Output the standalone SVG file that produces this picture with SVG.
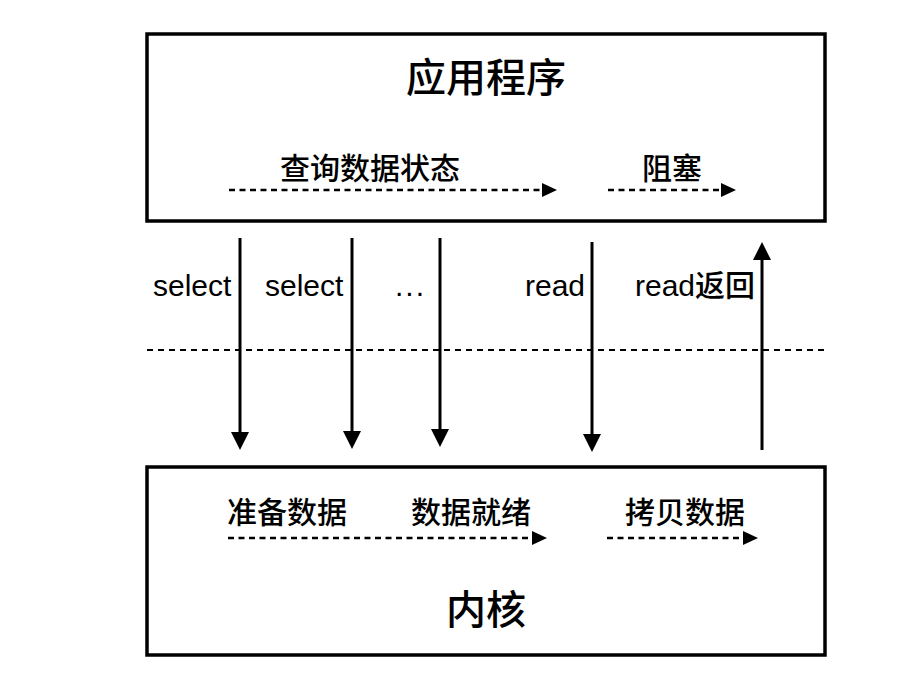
<svg xmlns="http://www.w3.org/2000/svg" width="922" height="700" viewBox="0 0 922 700">
<style>
.box{fill:#fff;stroke:#000;stroke-width:3.5}
.title{font-family:"Liberation Sans","Noto Sans CJK SC",sans-serif;font-size:40px;font-weight:500;fill:#000;text-anchor:middle}
.lbl{font-family:"Liberation Sans","Noto Sans CJK SC",sans-serif;font-size:30px;font-weight:500;fill:#000}
.solid{stroke:#000;stroke-width:3;fill:none;marker-end:url(#ah)}
.dash{stroke:#000;stroke-width:2.5;fill:none;stroke-dasharray:6 4.5;marker-end:url(#dh)}
.sep{stroke:#000;stroke-width:2;fill:none;stroke-dasharray:6 5}
</style>
<defs>
<marker id="ah" markerUnits="userSpaceOnUse" markerWidth="18" markerHeight="18" refX="8" refY="9" orient="auto">
<path d="M0,0 L18,9 L0,18 z" fill="#000"/>
</marker>
<marker id="dh" markerUnits="userSpaceOnUse" markerWidth="15" markerHeight="14" refX="5" refY="7" orient="auto">
<path d="M0,0 L15,7 L0,14 z" fill="#000"/>
</marker>
</defs>
<rect width="922" height="700" fill="#fff"/>
<g id="app">
<rect class="box" x="147" y="34" width="678" height="187"/>
<text class="title" x="486" y="92">应用程序</text>
<text class="lbl" x="280" y="179">查询数据状态</text>
<text class="lbl" x="642" y="179">阻塞</text>
</g>
<g id="kernel">
<rect class="box" x="147" y="467" width="678" height="188"/>
<text class="lbl" x="227" y="523">准备数据</text>
<text class="lbl" x="411" y="523">数据就绪</text>
<text class="lbl" x="625" y="523">拷贝数据</text>
<text class="title" x="486" y="624">内核</text>
</g>
<g id="labels">
<text class="lbl" x="153" y="296">select</text>
<text class="lbl" x="265" y="296">select</text>
<text class="lbl" x="395" y="296" style="letter-spacing:2px">...</text>
<text class="lbl" x="525" y="296">read</text>
<text class="lbl" x="635" y="296">read返回</text>
</g>
<g id="connectors">
<line class="sep" x1="147" y1="350" x2="826" y2="350"/>
<line class="dash" x1="229" y1="190" x2="547" y2="190"/>
<line class="dash" x1="608" y1="190" x2="726" y2="190"/>
<line class="dash" x1="228" y1="538" x2="537" y2="538"/>
<line class="dash" x1="607" y1="538" x2="748" y2="538"/>
<line class="solid" x1="240" y1="238" x2="240" y2="440"/>
<line class="solid" x1="352" y1="238" x2="352" y2="439"/>
<line class="solid" x1="440" y1="238" x2="440" y2="437"/>
<line class="solid" x1="592" y1="242" x2="592" y2="442"/>
<line class="solid" x1="762" y1="450" x2="762" y2="252"/>
</g>
</svg>
